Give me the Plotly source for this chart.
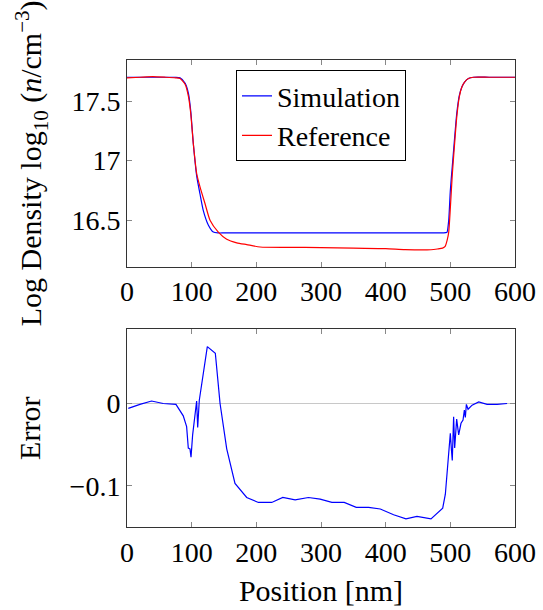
import plotly.graph_objects as go
from plotly.subplots import make_subplots

# Density data (log10 n / cm^-3)
sim_x = [0, 20, 40, 60, 75, 82, 90, 95, 98.5, 102.6, 107.8, 112.9, 118, 125.7, 133.5, 141.2, 150,
         200, 300, 400, 480, 493, 495, 497.5, 500, 503, 506, 510, 514, 518, 522, 528, 536, 560, 600]
sim_y = [17.70, 17.70, 17.70, 17.70, 17.70, 17.695, 17.65, 17.565, 17.42, 17.14, 16.87, 16.72, 16.58,
         16.46, 16.40, 16.393, 16.393,
         16.393, 16.393, 16.393, 16.393, 16.395, 16.40, 16.50, 16.75, 16.95, 17.15, 17.40, 17.55, 17.62,
         17.66, 17.69, 17.70, 17.70, 17.70]

ref_x = [0, 20, 40, 60, 75, 82, 90, 95, 98.5, 102.6, 107.8, 112.9, 120.6, 128.4, 141.2, 154.2, 169.7,
         185.2, 205.8, 250, 300, 350, 400, 430, 470, 480, 488, 492, 495, 497.5, 500, 503, 506, 510, 514,
         518, 522, 528, 536, 560, 600]
ref_y = [17.695, 17.70, 17.705, 17.70, 17.695, 17.69, 17.64, 17.54, 17.40, 17.14, 16.89, 16.78, 16.64,
         16.50, 16.40, 16.34, 16.31,
         16.295, 16.275, 16.272, 16.27, 16.265, 16.262, 16.253, 16.252, 16.258, 16.265, 16.28, 16.33,
         16.40, 16.60, 16.88, 17.10, 17.37, 17.54,
         17.62, 17.66, 17.69, 17.70, 17.70, 17.70]

# Error data
err_x = [2, 20, 38, 56, 75.7, 87, 92.2, 94.8, 97.4, 99, 101.5, 103.6, 105, 107.7, 109.3, 111.8,
         124.2, 136.6, 143.9, 154.2, 167, 185.1, 203.2, 223.8, 240.9, 260, 280.6, 298.7, 316.8,
         335.9, 354.5, 373.6, 391.7, 412.3, 431.4, 448.4, 470.1, 488.2, 492.3, 496.4, 499, 500,
         501.6, 503, 505.1, 506.7, 509.8, 512.9, 516.5, 519.6, 521.7, 523.2, 524.8, 527.4, 533.6,
         543.9, 556.8, 572.3, 587.8]
err_y = [-0.006, -0.001, 0.003, 0.0, -0.001, -0.015, -0.028, -0.054, -0.055, -0.065, -0.038, -0.024,
         -0.021, 0.003, -0.029, 0.004, 0.069, 0.061, 0.0, -0.055, -0.097, -0.114, -0.12, -0.12,
         -0.114, -0.117, -0.114, -0.116, -0.12, -0.12, -0.126, -0.126, -0.128, -0.135, -0.14, -0.137,
         -0.14, -0.127, -0.11, -0.073, -0.055, -0.036, -0.055, -0.069, -0.016, -0.054, -0.019, -0.038,
         -0.024, -0.02, -0.008, -0.017, -0.001, -0.007, -0.002, 0.002, -0.001, -0.001, 0.0]

x_ticks = [0, 100, 200, 300, 400, 500, 600]
top_ticks = [16.5, 17, 17.5]
top_labels = ["16.5", "17", "17.5"]
bot_ticks = [-0.1, 0]
bot_labels = ["\u22120.1", "0"]

FONT = "Liberation Serif, Times New Roman, DejaVu Serif, serif"
FS = 28
TFS = 30

fig = make_subplots(rows=2, cols=1, shared_xaxes=False, vertical_spacing=0.134)
fig.add_trace(go.Scatter(x=sim_x, y=sim_y, mode="lines", name="Simulation",
                         line=dict(color="#0000ff", width=1.2, shape="spline", smoothing=0.6)),
              row=1, col=1)
fig.add_trace(go.Scatter(x=ref_x, y=ref_y, mode="lines", name="Reference",
                         line=dict(color="#ff0000", width=1.2, shape="spline", smoothing=0.6)),
              row=1, col=1)
fig.add_trace(go.Scatter(x=err_x, y=err_y, mode="lines", name="Error", showlegend=False,
                         line=dict(color="#0000ff", width=1.2)), row=2, col=1)

axcommon = dict(showline=True, linecolor="#333333", linewidth=1, mirror="allticks",
                ticks="inside", ticklen=5, tickcolor="#888888", showgrid=False, automargin=False,
                tickfont=dict(family=FONT, size=FS, color="black"))

fig.update_layout(
    width=543, height=610,
    margin=dict(l=127, r=28, t=60, b=83),
    paper_bgcolor="white", plot_bgcolor="white",
    font=dict(family=FONT, size=FS, color="black"),
    legend=dict(x=0.5, y=0.978, xanchor="center", yanchor="top",
                bordercolor="black", borderwidth=1, bgcolor="white",
                font=dict(family=FONT, size=28), tracegroupgap=0,
                itemwidth=30),
    xaxis=dict(domain=[0, 1], range=[0, 600], tickvals=x_ticks, zeroline=False, **axcommon),
    yaxis=dict(domain=[0.557, 1], range=[16.108, 17.845], tickvals=top_ticks, ticktext=top_labels,
               zeroline=False,
               title=dict(text="Log Density log<sub>10</sub> (<i>n</i>/cm<sup>\u22123</sup>)",
                          font=dict(family=FONT, size=TFS), standoff=20), **axcommon),
    xaxis2=dict(domain=[0, 1], range=[0, 600], tickvals=x_ticks, zeroline=False,
                title=dict(text="Position [nm]", font=dict(family=FONT, size=TFS), standoff=13),
                **axcommon),
    yaxis2=dict(domain=[0, 0.423], range=[-0.1498, 0.0898], tickvals=bot_ticks, ticktext=bot_labels,
                zeroline=True, zerolinecolor="#c8c8c8", zerolinewidth=1.2,
                title=dict(text="Error", font=dict(family=FONT, size=TFS), standoff=20), **axcommon),
)

fig.write_html("out.html")
